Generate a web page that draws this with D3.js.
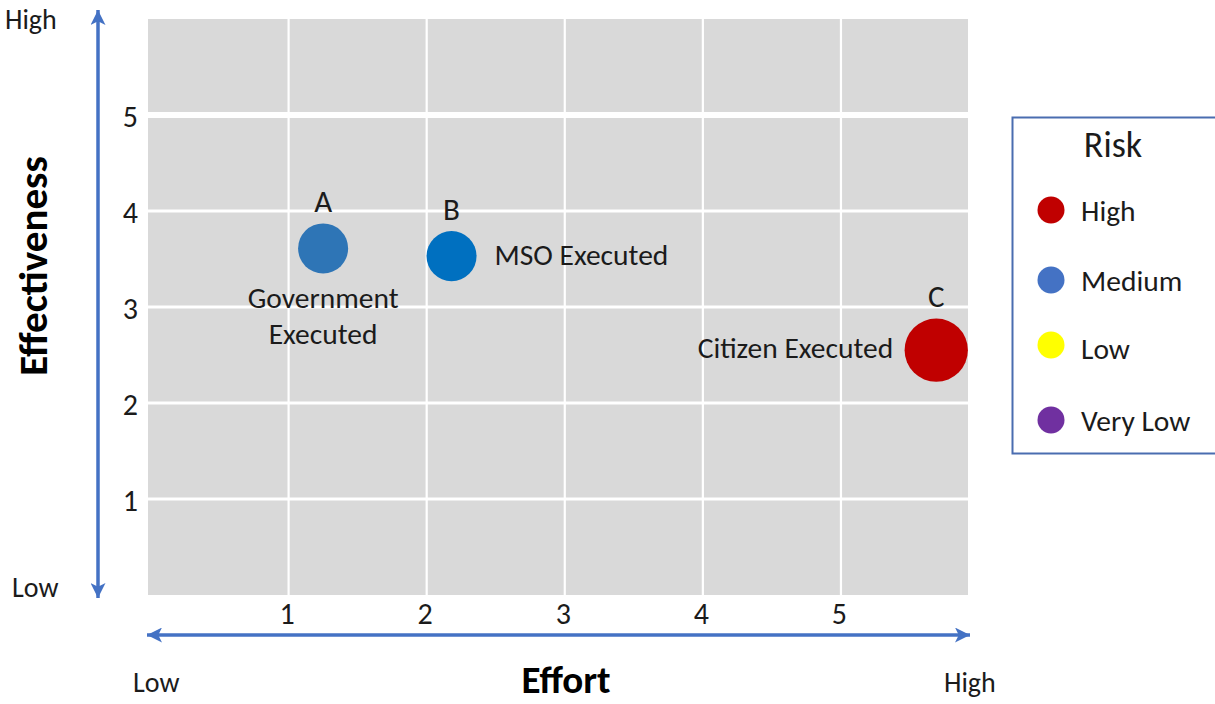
<!DOCTYPE html>
<html>
<head>
<meta charset="utf-8">
<script src="https://cdn.jsdelivr.net/npm/d3@7"></script>
<style>
  html, body { margin: 0; padding: 0; background: #ffffff; }
  svg { display: block; font-family: Carlito, Calibri, Lato, "Noto Sans", sans-serif; }
</style>
</head>
<body>
<svg id="chart" width="1215" height="704"></svg>
<script>
// Options and their scores
const optionIds = ["A", "B", "C"];
const optionNames = [["Government", "Executed"], ["MSO Executed"], ["Citizen Executed"]];
const effortValues = [1.25, 2.18, 5.69];
const effectivenessValues = [3.61, 3.53, 2.55];
const bubbleSizes = [3, 3, 4.8];
const optionRisk = ["Medium", "Medium", "High"];

// Axis ticks and end labels
const effortTicks = [1, 2, 3, 4, 5];
const effectivenessTicks = [1, 2, 3, 4, 5];
const axisEndLabels = ["Low", "High"];

// Legend
const riskLevels = ["High", "Medium", "Low", "Very Low"];

const riskColor = d3.scaleOrdinal()
  .domain(riskLevels)
  .range(["#C00000", "#4472C4", "#FFFF00", "#7030A0"]);
const bubbleColor = d3.scaleOrdinal()
  .domain(optionIds)
  .range(["#2E75B6", "#0070C0", "#C00000"]);

const arrowBlue = "#4472C4";
const ink = "#1b1b1b";
const fontStack = "Carlito, Calibri, Lato, sans-serif";

const svg = d3.select("#chart");

const plot = { left: 148, right: 968, top: 19, bottom: 595 };

const x = d3.scaleLinear().domain([0, 5.92]).range([150.5, plot.right]);
const y = d3.scaleLinear().domain([0, 6]).range([plot.bottom, plot.top]);
const r = d3.scaleSqrt().domain([0, 5]).range([0, 32.3]);

// Plot background
svg.append("rect")
  .attr("x", plot.left).attr("y", plot.top)
  .attr("width", plot.right - plot.left).attr("height", plot.bottom - plot.top)
  .attr("fill", "#D9D9D9");

// Grid
svg.append("g").selectAll("line")
  .data(effortTicks).join("line")
  .attr("x1", d => x(d)).attr("x2", d => x(d))
  .attr("y1", plot.top).attr("y2", plot.bottom)
  .attr("stroke", "#ffffff").attr("stroke-width", 2.2);

svg.append("g").selectAll("line")
  .data(effectivenessTicks).join("line")
  .attr("x1", plot.left).attr("x2", plot.right)
  .attr("y1", d => y(d)).attr("y2", d => y(d))
  .attr("stroke", "#ffffff")
  .attr("stroke-width", d => d === 5 ? 6 : 3);

// Tick labels via d3 axes
const xAxis = svg.append("g")
  .attr("transform", `translate(0,${plot.bottom})`)
  .call(d3.axisBottom(x).tickValues(effortTicks).tickSize(0).tickFormat(d3.format("d")));
const yAxis = svg.append("g")
  .attr("transform", `translate(${plot.left - 10},0)`)
  .call(d3.axisLeft(y).tickValues(effectivenessTicks).tickSize(0).tickFormat(d3.format("d")));
[xAxis, yAxis].forEach(g => {
  g.attr("font-family", fontStack).attr("font-size", 30);
  g.select(".domain").remove();
  g.selectAll("text").attr("fill", ink);
});
xAxis.selectAll("text").attr("dy", 0).attr("y", 29).attr("dx", -2);
yAxis.selectAll("text").attr("dy", "0.38em").attr("x", 0);

// Axis arrows
const defs = svg.append("defs");
defs.append("marker")
  .attr("id", "arrowHead")
  .attr("viewBox", "0 0 10 10")
  .attr("refX", 10).attr("refY", 5)
  .attr("markerUnits", "userSpaceOnUse")
  .attr("markerWidth", 15).attr("markerHeight", 15)
  .attr("orient", "auto-start-reverse")
  .append("path")
  .attr("d", "M0,0 L10,5 L0,10 L2.5,5 Z")
  .attr("fill", arrowBlue);

svg.append("line")
  .attr("x1", 98).attr("x2", 98)
  .attr("y1", 598).attr("y2", 10)
  .attr("stroke", arrowBlue).attr("stroke-width", 3.5)
  .attr("marker-start", "url(#arrowHead)")
  .attr("marker-end", "url(#arrowHead)");

svg.append("line")
  .attr("x1", 147).attr("x2", 970)
  .attr("y1", 635).attr("y2", 635)
  .attr("stroke", arrowBlue).attr("stroke-width", 3.5)
  .attr("marker-start", "url(#arrowHead)")
  .attr("marker-end", "url(#arrowHead)");

// Axis end labels
const endStyle = sel => sel.attr("fill", ink).style("font-size", "28px");
svg.append("text").attr("x", 5).attr("y", 29).text(axisEndLabels[1]).call(endStyle);
svg.append("text").attr("x", 12).attr("y", 597).text(axisEndLabels[0]).call(endStyle);
svg.append("text").attr("x", 133).attr("y", 692).text(axisEndLabels[0]).call(endStyle);
svg.append("text").attr("x", 944).attr("y", 692).text(axisEndLabels[1]).call(endStyle);

// Axis titles
svg.append("text")
  .attr("x", 566).attr("y", 693)
  .attr("text-anchor", "middle")
  .attr("fill", "#000")
  .style("font-size", "39px").style("font-weight", "bold")
  .text("Effort");
svg.append("text")
  .attr("transform", "translate(47,266) rotate(-90)")
  .attr("text-anchor", "middle")
  .attr("fill", "#000")
  .style("font-size", "41px").style("font-weight", "bold")
  .text("Effectiveness");

// Bubbles
const points = optionIds.map((id, i) => ({
  id,
  name: optionNames[i],
  effort: effortValues[i],
  eff: effectivenessValues[i],
  size: bubbleSizes[i],
  risk: optionRisk[i]
}));

svg.append("g").selectAll("circle")
  .data(points).join("circle")
  .attr("cx", d => x(d.effort))
  .attr("cy", d => y(d.eff))
  .attr("r", d => r(d.size))
  .attr("fill", d => bubbleColor(d.id));

// Letter labels above bubbles
svg.append("g").selectAll("text")
  .data(points).join("text")
  .attr("x", d => x(d.effort))
  .attr("y", d => y(d.eff) - r(d.size) - 11.5)
  .attr("text-anchor", "middle")
  .attr("fill", ink)
  .style("font-size", "31px")
  .text(d => d.id);

// Name labels: below for A, right for B, left for C
const namePlacement = {
  A: { dx: 0, dy: 60, anchor: "middle" },
  B: { dx: 43, dy: 9, anchor: "start" },
  C: { dx: -43, dy: 7.5, anchor: "end" }
};
svg.append("g").selectAll("text")
  .data(points).join("text")
  .attr("x", d => x(d.effort) + namePlacement[d.id].dx)
  .attr("y", d => y(d.eff) + namePlacement[d.id].dy)
  .attr("text-anchor", d => namePlacement[d.id].anchor)
  .attr("fill", ink)
  .style("font-size", "29.5px")
  .each(function(d) {
    const t = d3.select(this);
    d.name.forEach((line, k) => {
      t.append("tspan")
        .attr("x", x(d.effort) + namePlacement[d.id].dx)
        .attr("dy", k === 0 ? 0 : 36)
        .text(line);
    });
  });

// Legend
const legend = svg.append("g");
legend.append("rect")
  .attr("x", 1012.5).attr("y", 117.5)
  .attr("width", 220).attr("height", 336)
  .attr("fill", "#ffffff")
  .attr("stroke", "#4A6DB0").attr("stroke-width", 2);
legend.append("text")
  .attr("x", 1113).attr("y", 157)
  .attr("text-anchor", "middle")
  .attr("fill", ink)
  .style("font-size", "36px")
  .text("Risk");

// Row layout of the legend entries
const legendRowTop = { "High": 210, "Medium": 280, "Low": 345, "Very Low": 420 };
const rows = legend.selectAll("g.row")
  .data(riskLevels).join("g").attr("class", "row")
  .attr("transform", d => `translate(0,${legendRowTop[d]})`);
rows.append("circle")
  .attr("cx", 1051).attr("cy", 0)
  .attr("r", 13.5)
  .attr("fill", d => riskColor(d));
rows.append("text")
  .attr("x", 1081).attr("y", d => d === "Low" ? 14 : 10.5)
  .attr("fill", ink)
  .style("font-size", "29.5px")
  .text(d => d);
</script>
</body>
</html>
